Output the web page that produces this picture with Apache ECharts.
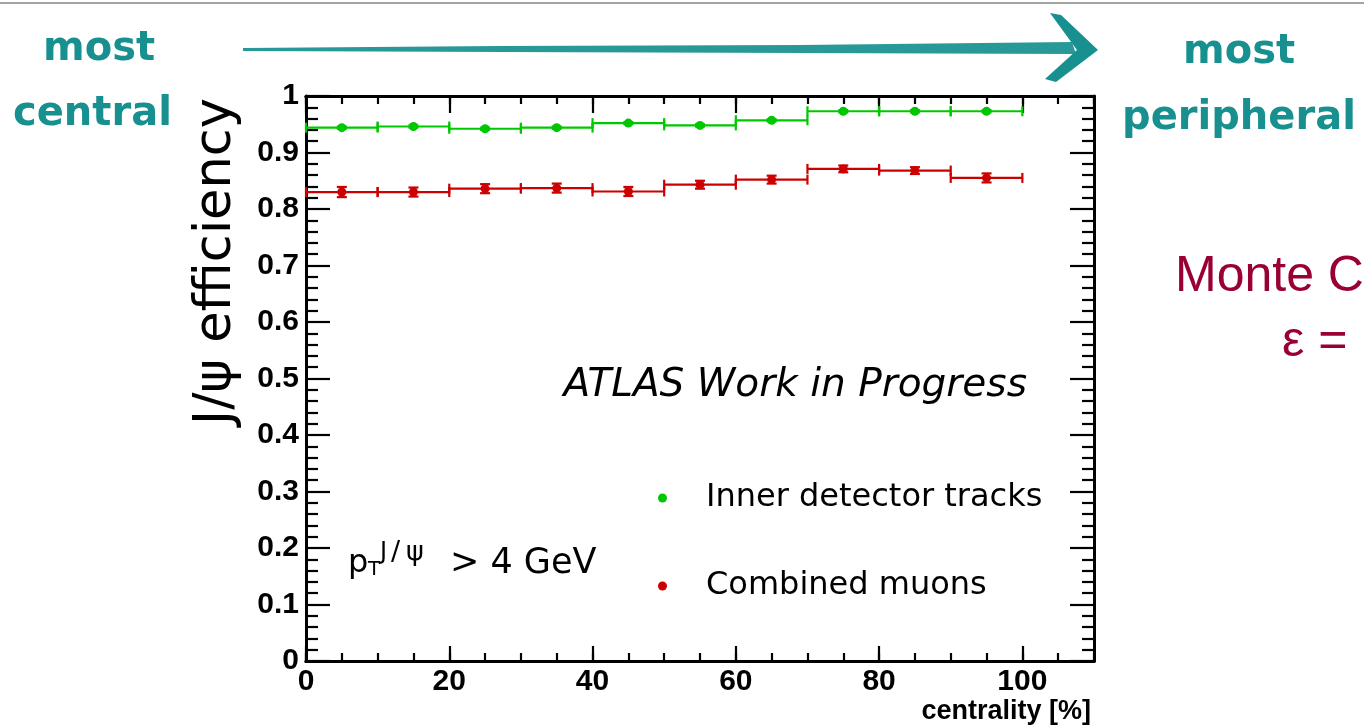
<!DOCTYPE html>
<html>
<head>
<meta charset="utf-8">
<title>J/ψ efficiency vs centrality</title>
<script src="https://cdn.jsdelivr.net/npm/echarts@6/dist/echarts.min.js"></script>
<style>
  html, body { margin: 0; padding: 0; background: #ffffff; }
  #chart { width: 1364px; height: 727px; }
</style>
</head>
<body>
<div id="chart"></div>
<script>
// Centrality bins (bin centres, %) and half bin width
const centralityBins = [5, 15, 25, 35, 45, 55, 65, 75, 85, 95];
const binHalfWidth = [5, 5, 5, 5, 5, 5, 5, 5, 5, 5];

// Efficiency for J/psi -> mu mu, pT > 4 GeV
const innerDetectorEff = [0.944, 0.946, 0.942, 0.944, 0.952, 0.948, 0.957, 0.973, 0.973, 0.973];
const innerDetectorErr = [0.002, 0.002, 0.002, 0.002, 0.002, 0.002, 0.002, 0.002, 0.002, 0.002];
const combinedMuonEff = [0.830, 0.830, 0.836, 0.837, 0.831, 0.843, 0.852, 0.871, 0.868, 0.855];
const combinedMuonErr = [0.009, 0.008, 0.008, 0.008, 0.008, 0.007, 0.007, 0.006, 0.006, 0.008];

// Axis ranges and tick steps
const xRange = [0, 110];
const xMajorStep = 20;
const xMinorStep = 5;
const yRange = [0, 1];
const yMajorStep = 0.1;
const yMinorSplit = 5;

const seriesNames = ['Inner detector tracks', 'Combined muons'];
const GREEN = '#00c800';
const RED = '#cc0000';
const TEAL = '#17908f';
const AXIS_FONT = 'Liberation Sans, Arial, Helvetica, sans-serif';
const TEXT_FONT = 'DejaVu Sans, Liberation Sans, sans-serif';

function points(ys) {
  return centralityBins.map((x, i) => [x, ys[i]]);
}
function errorRows(ys, errs) {
  return centralityBins.map((x, i) => [x, ys[i], binHalfWidth[i], errs[i]]);
}

// Histogram-style error bars: horizontal bin width with end ticks, vertical stat error with caps
function errorBars(color) {
  return function (params, api) {
    const x = api.value(0), y = api.value(1), ex = api.value(2), ey = api.value(3);
    const l = api.coord([x - ex, y]);
    const r = api.coord([x + ex, y]);
    const lo = api.coord([x, y - ey]);
    const hi = api.coord([x, y + ey]);
    const tick = 5, cap = 5;
    const style = { stroke: color, lineWidth: 2.2 };
    const line = (x1, y1, x2, y2) => ({ type: 'line', shape: { x1, y1, x2, y2 }, style });
    return {
      type: 'group',
      children: [
        line(l[0], l[1], r[0], r[1]),
        line(l[0], l[1] - tick, l[0], l[1] + tick),
        line(r[0], r[1] - tick, r[0], r[1] + tick),
        line(lo[0], lo[1], hi[0], hi[1]),
        line(lo[0] - cap, lo[1], lo[0] + cap, lo[1]),
        line(hi[0] - cap, hi[1], hi[0] + cap, hi[1])
      ]
    };
  };
}

const frameLine = { show: true, onZero: false, lineStyle: { color: '#000', width: 3 } };

function xAxisDef(position, step, tickLen, withLabels) {
  return {
    type: 'value', position, min: xRange[0], max: xRange[1], interval: step,
    axisLine: frameLine,
    axisTick: { show: true, inside: true, length: tickLen, lineStyle: { color: '#000', width: 2.2 } },
    axisLabel: withLabels ? {
      show: true, showMaxLabel: false, margin: 6, color: '#000',
      fontFamily: AXIS_FONT, fontWeight: 'bold', fontSize: 30
    } : { show: false },
    splitLine: { show: false }
  };
}

function yAxisDef(position, withLabels) {
  return {
    type: 'value', position, min: yRange[0], max: yRange[1], interval: yMajorStep,
    axisLine: frameLine,
    axisTick: { show: true, inside: true, length: 24, lineStyle: { color: '#000', width: 2.2 } },
    minorTick: { show: true, splitNumber: yMinorSplit, length: 12, lineStyle: { color: '#000', width: 2.2 } },
    axisLabel: withLabels ? {
      show: true, margin: 7, color: '#000',
      fontFamily: AXIS_FONT, fontWeight: 'bold', fontSize: 30,
      formatter: v => String(+v.toFixed(1))
    } : { show: false },
    splitLine: { show: false }
  };
}

const xBottom = xAxisDef('bottom', xMajorStep, 15, true);

const yLeft = yAxisDef('left', true);
yLeft.name = 'J/ψ efficiency';
yLeft.nameLocation = 'end';
yLeft.nameRotate = 90;
yLeft.nameGap = -2;
yLeft.nameTextStyle = {
  color: '#000', fontFamily: TEXT_FONT, fontSize: 51,
  align: 'right', verticalAlign: 'bottom', padding: [0, 0, 64, 0]
};

const option = {
  backgroundColor: '#ffffff',
  animation: false,
  grid: { left: 306, right: 270, top: 96, bottom: 66, containLabel: false },
  xAxis: [
    xBottom,
    xAxisDef('bottom', xMinorStep, 8, false),
    xAxisDef('top', xMajorStep, 17, false),
    xAxisDef('top', xMinorStep, 8, false)
  ],
  yAxis: [yLeft, yAxisDef('right', false)],
  legend: {
    orient: 'vertical', left: 653, top: 473,
    itemWidth: 9, itemHeight: 9, itemGap: 48, icon: 'circle',
    selectedMode: false,
    data: seriesNames,
    textStyle: {
      color: '#000', fontFamily: TEXT_FONT, fontSize: 32, lineHeight: 40,
      padding: [0, 0, 0, 34]
    }
  },
  series: [
    {
      type: 'custom', name: 'Inner detector tracks errors',
      xAxisIndex: 0, yAxisIndex: 0,
      renderItem: errorBars(GREEN),
      data: errorRows(innerDetectorEff, innerDetectorErr),
      z: 2, silent: true
    },
    {
      type: 'custom', name: 'Combined muons errors',
      xAxisIndex: 0, yAxisIndex: 0,
      renderItem: errorBars(RED),
      data: errorRows(combinedMuonEff, combinedMuonErr),
      z: 2, silent: true
    },
    {
      type: 'scatter', name: seriesNames[0],
      symbol: 'circle', symbolSize: 9,
      itemStyle: { color: GREEN, opacity: 1 },
      data: points(innerDetectorEff), z: 3
    },
    {
      type: 'scatter', name: seriesNames[1],
      symbol: 'circle', symbolSize: 9,
      itemStyle: { color: RED, opacity: 1 },
      data: points(combinedMuonEff), z: 3
    }
  ],
  graphic: [
    // slide frame line
    { type: 'line', shape: { x1: 0, y1: 3, x2: 1364, y2: 3 }, style: { stroke: '#a3a3a3', lineWidth: 2 } },
    // centrality direction arrow
    {
      type: 'polygon', shape: { points: [[243, 48], [500, 46], [800, 45], [1072, 42], [1076, 54], [800, 53], [500, 52], [243, 51]] },
      style: { fill: TEAL, opacity: 0.92 }
    },
    {
      type: 'polygon', shape: { points: [[1050, 13], [1061, 15], [1098, 50], [1056, 82], [1045, 79], [1077, 50]] },
      style: { fill: TEAL }
    },
    { type: 'text', left: 43, top: 30, style: { text: 'most', fill: TEAL, font: 'bold 40px DejaVu Sans' } },
    { type: 'text', left: 13, top: 95, style: { text: 'central', fill: TEAL, font: 'bold 40px DejaVu Sans' } },
    { type: 'text', left: 1183, top: 33, style: { text: 'most', fill: TEAL, font: 'bold 40px DejaVu Sans' } },
    { type: 'text', left: 1122, top: 99, style: { text: 'peripheral', fill: TEAL, font: 'bold 40px DejaVu Sans' } },
    // side notes
    { type: 'text', x: 1175, y: 277, style: { text: 'Monte Carlo', fill: '#990033', font: '50px Liberation Sans', verticalAlign: 'middle' } },
    { type: 'text', x: 1282, y: 342, style: { text: 'ε =', fill: '#990033', font: '50px Liberation Sans', verticalAlign: 'middle' } },
    // x axis title, right-aligned under the frame
    { type: 'text', x: 1091, y: 712, style: { text: 'centrality [%]', fill: '#000', font: 'bold 27px Liberation Sans', align: 'right', verticalAlign: 'middle' } },
    // in-frame annotations
    { type: 'text', x: 1027, y: 386, style: { text: 'ATLAS Work in Progress', fill: '#000', font: 'italic 39px DejaVu Sans', align: 'right', verticalAlign: 'middle' } },
    { type: 'text', x: 348, y: 564, style: { text: 'p', fill: '#000', font: '32px DejaVu Sans', verticalAlign: 'middle' } },
    { type: 'text', x: 368, y: 570, style: { text: 'T', fill: '#000', font: '20px DejaVu Sans', verticalAlign: 'middle' } },
    { type: 'text', x: 380, y: 553, style: { text: 'J', fill: '#000', font: '24px DejaVu Sans', verticalAlign: 'middle' } },
    { type: 'text', x: 391, y: 553, style: { text: '/', fill: '#000', font: '27px DejaVu Sans', verticalAlign: 'middle' } },
    { type: 'text', x: 406, y: 553, style: { text: 'ψ', fill: '#000', font: '27px DejaVu Sans', verticalAlign: 'middle' } },
    { type: 'text', x: 450, y: 564, style: { text: '> 4 GeV', fill: '#000', font: '35px DejaVu Sans', verticalAlign: 'middle' } }
  ]
};

const chart = echarts.init(document.getElementById('chart'), null, { renderer: 'canvas' });
chart.setOption(option);
</script>
</body>
</html>
